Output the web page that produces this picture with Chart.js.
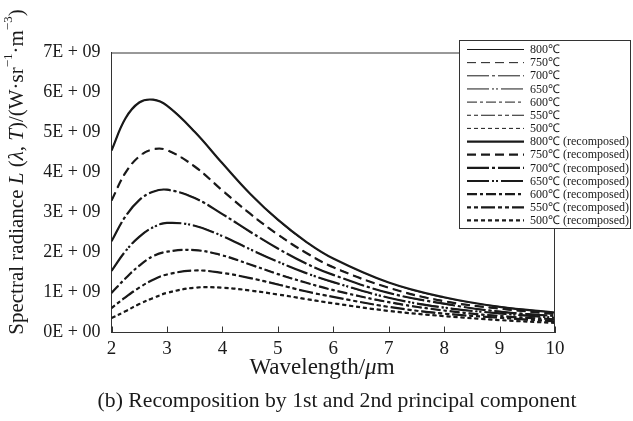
<!DOCTYPE html>
<html><head><meta charset="utf-8">
<style>html,body{margin:0;padding:0;background:#fff;}#wrap{width:633px;height:421px;}</style>
<script src="https://cdn.jsdelivr.net/npm/chart.js@4.4.1/dist/chart.umd.min.js"></script>
</head><body><div id="wrap"><canvas id="c" width="633" height="421"></canvas></div>
<script>
// ---------------- data (radiance in units of 1E+09 W·sr^-1·m^-3) ----------------
const wavelengths = [2, 2.25, 2.5, 2.75, 3, 3.5, 4, 4.5, 5, 5.5, 6, 7, 8, 9, 10];
const temperatureLabels = ['800℃', '750℃', '700℃', '650℃', '600℃', '550℃', '500℃'];

const orig800 = [4.56, 5.34, 5.74, 5.82, 5.68, 5.03, 4.23, 3.46, 2.81, 2.27, 1.85, 1.25, 0.87, 0.65, 0.50];
const orig750 = [3.29, 3.99, 4.41, 4.58, 4.55, 4.15, 3.56, 2.97, 2.44, 2.00, 1.64, 1.12, 0.79, 0.59, 0.46];
const orig700 = [2.28, 2.89, 3.30, 3.52, 3.57, 3.37, 2.96, 2.51, 2.10, 1.74, 1.44, 0.99, 0.71, 0.53, 0.42];
const orig650 = [1.53, 2.03, 2.40, 2.63, 2.73, 2.67, 2.41, 2.09, 1.77, 1.49, 1.25, 0.87, 0.63, 0.47, 0.37];
const orig600 = [0.99, 1.36, 1.67, 1.90, 2.02, 2.06, 1.92, 1.70, 1.47, 1.25, 1.06, 0.75, 0.55, 0.42, 0.33];
const orig550 = [0.61, 0.87, 1.12, 1.32, 1.45, 1.55, 1.49, 1.36, 1.21, 1.03, 0.89, 0.64, 0.48, 0.36, 0.28];
const orig500 = [0.36, 0.53, 0.71, 0.87, 0.99, 1.12, 1.12, 1.05, 0.95, 0.83, 0.73, 0.54, 0.41, 0.31, 0.24];

const reco800 = [4.55, 5.35, 5.75, 5.82, 5.67, 5.02, 4.23, 3.47, 2.82, 2.28, 1.85, 1.25, 0.88, 0.64, 0.50];
const reco750 = [3.30, 3.99, 4.40, 4.58, 4.56, 4.15, 3.55, 2.97, 2.45, 2.00, 1.63, 1.12, 0.78, 0.60, 0.46];
const reco700 = [2.28, 2.90, 3.31, 3.52, 3.57, 3.36, 2.96, 2.52, 2.10, 1.73, 1.44, 0.99, 0.72, 0.52, 0.41];
const reco650 = [1.54, 2.03, 2.39, 2.63, 2.74, 2.67, 2.41, 2.08, 1.77, 1.49, 1.26, 0.87, 0.62, 0.48, 0.37];
const reco600 = [0.99, 1.35, 1.67, 1.91, 2.02, 2.06, 1.93, 1.70, 1.46, 1.25, 1.06, 0.76, 0.55, 0.41, 0.33];
const reco550 = [0.61, 0.88, 1.12, 1.32, 1.45, 1.55, 1.49, 1.36, 1.20, 1.03, 0.89, 0.64, 0.47, 0.37, 0.28];
const reco500 = [0.36, 0.53, 0.71, 0.86, 0.99, 1.12, 1.12, 1.05, 0.95, 0.84, 0.73, 0.54, 0.41, 0.31, 0.24];

const xTickValues = [2, 3, 4, 5, 6, 7, 8, 9, 10];
const yTickValues = [0, 1, 2, 3, 4, 5, 6, 7];
const yTickLabels = ['0E + 00', '1E + 09', '2E + 09', '3E + 09', '4E + 09', '5E + 09', '6E + 09', '7E + 09'];
const captionText = '(b) Recomposition by 1st and 2nd principal component';

// ---------------- styles ----------------
const SERIF = '"Liberation Serif", "Times New Roman", serif';
const INK = '#1a1a1a';
const dashes = [[], [9, 5], [22, 3, 3, 3], [22, 3, 2, 2, 2, 3], [10, 3, 3, 3], [4, 3, 4, 3, 14, 3], [4, 3]];
const origSeries = [orig800, orig750, orig700, orig650, orig600, orig550, orig500];
const recoSeries = [reco800, reco750, reco700, reco650, reco600, reco550, reco500];

function toPoints(arr) { return arr.map((v, i) => ({ x: wavelengths[i], y: v })); }

const datasets = [];
origSeries.forEach((s, i) => datasets.push({
  label: temperatureLabels[i], data: toPoints(s), borderColor: INK, borderWidth: 1,
  borderDash: dashes[i], pointRadius: 0, tension: 0.4, fill: false
}));
recoSeries.forEach((s, i) => datasets.push({
  label: temperatureLabels[i] + ' (recomposed)', data: toPoints(s), borderColor: INK, borderWidth: 2.2,
  borderDash: dashes[i], pointRadius: 0, tension: 0.4, fill: false
}));

const decorPlugin = {
  id: 'decor',
  afterDraw(chart) {
    const { ctx, chartArea: a, scales: { x } } = chart;
    ctx.save();
    // frame (top & right), inner x ticks
    ctx.strokeStyle = '#333'; ctx.lineWidth = 1; ctx.setLineDash([]);
    ctx.beginPath();
    ctx.moveTo(a.left, a.top + 0.5); ctx.lineTo(a.right, a.top + 0.5);
    ctx.moveTo(a.right - 0.5, a.top); ctx.lineTo(a.right - 0.5, a.bottom);
    x.ticks.forEach(t => {
      const px = Math.round(x.getPixelForValue(t.value)) + 0.5;
      ctx.moveTo(px, a.bottom); ctx.lineTo(px, a.bottom - 6);
    });
    ctx.stroke();

    // legend box
    const lx = 459, ly = 40, lw = 171, lh = 188;
    ctx.fillStyle = '#fff';
    ctx.fillRect(lx, ly, lw, lh);
    ctx.strokeStyle = '#333'; ctx.lineWidth = 1;
    ctx.strokeRect(lx + 0.5, ly + 0.5, lw, lh);
    ctx.font = '12px ' + SERIF; ctx.fillStyle = INK; ctx.textBaseline = 'middle'; ctx.textAlign = 'left';
    chart.data.datasets.forEach((ds, i) => {
      const y = 49.5 + i * 13.15;
      ctx.beginPath();
      ctx.setLineDash(ds.borderDash); ctx.lineWidth = ds.borderWidth; ctx.strokeStyle = INK;
      ctx.moveTo(467, y); ctx.lineTo(524, y); ctx.stroke();
      ctx.setLineDash([]);
      ctx.fillText(ds.label, 530, y + 0.5);
    });

    // x axis title: Wavelength/μm
    ctx.fillStyle = INK; ctx.textBaseline = 'middle';
    const parts = [['Wavelength/', '23px ' + SERIF], ['μ', 'italic 23px ' + SERIF], ['m', '23px ' + SERIF]];
    let total = 0;
    parts.forEach(p => { ctx.font = p[1]; total += ctx.measureText(p[0]).width; });
    let cx = 322 - total / 2;
    parts.forEach(p => { ctx.font = p[1]; ctx.fillText(p[0], cx, 368); cx += ctx.measureText(p[0]).width; });

    // caption
    ctx.font = '100px ' + SERIF;
    const capSize = Math.min(24, 100 * 480 / ctx.measureText(captionText).width);
    ctx.font = capSize.toFixed(1) + 'px ' + SERIF;
    ctx.textAlign = 'center';
    ctx.fillText(captionText, 337, 401);
    ctx.textAlign = 'left';

    // y axis title (rotated)
    ctx.translate(17, 172); ctx.rotate(-Math.PI / 2);
    const F = '21px ' + SERIF, FI = 'italic 21px ' + SERIF, FS = '13px ' + SERIF;
    const yparts = [
      ['Spectral radiance ', F, 0], ['L', FI, 0], [' (', F, 0], ['λ', FI, 0], [', ', F, 0], ['T', FI, 0],
      [')/(W·sr', F, 0], ['−1', FS, -8], ['·m', F, 0], ['−3', FS, -8], [')', F, 0]
    ];
    let tw = 0;
    yparts.forEach(p => { ctx.font = p[1]; tw += ctx.measureText(p[0]).width; });
    let yx = -tw / 2;
    yparts.forEach(p => { ctx.font = p[1]; ctx.fillText(p[0], yx, p[2]); yx += ctx.measureText(p[0]).width; });
    ctx.restore();
  }
};

new Chart(document.getElementById('c'), {
  type: 'line',
  data: { datasets },
  options: {
    responsive: false, animation: false, devicePixelRatio: 1,
    layout: { padding: { left: 0, right: 78, top: 52.5, bottom: 33.5 } },
    plugins: { legend: { display: false }, tooltip: { enabled: false }, title: { display: false } },
    scales: {
      x: {
        type: 'linear', min: 2, max: 10,
        afterBuildTicks: s => { s.ticks = xTickValues.map(v => ({ value: v })); },
        afterFit: s => { s.height = 55; },
        grid: { display: false, drawTicks: false },
        border: { display: true, color: '#333', width: 1 },
        ticks: { color: INK, padding: 5, font: { family: SERIF, size: 19 }, callback: v => String(v) }
      },
      y: {
        type: 'linear', min: 0, max: 7,
        afterBuildTicks: s => { s.ticks = yTickValues.map(v => ({ value: v })); },
        afterFit: s => { s.width = 111.5; },
        grid: { display: false, drawTicks: false },
        border: { display: true, color: '#333', width: 1 },
        ticks: { color: INK, padding: 11, font: { family: SERIF, size: 18 },
          callback: v => yTickLabels[yTickValues.indexOf(v)] }
      }
    }
  },
  plugins: [decorPlugin]
});
</script></body></html>
